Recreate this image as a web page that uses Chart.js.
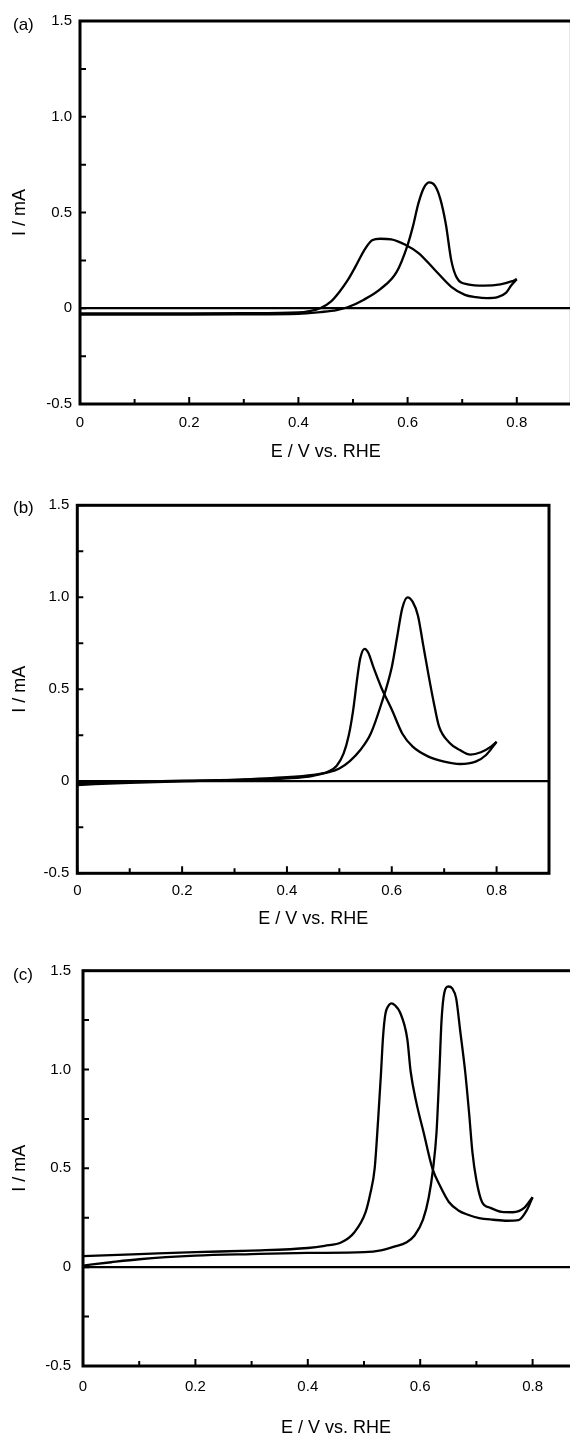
<!DOCTYPE html>
<html>
<head>
<meta charset="utf-8">
<script src="https://cdn.jsdelivr.net/npm/chart.js@4.4.1/dist/chart.umd.min.js"></script>
<style>
  body { margin: 0; background: #fff; width: 570px; height: 1437px; overflow: hidden; position: relative; }
  .panel { position: absolute; left: 0; }
  .tag { position: absolute; font: 17px "Liberation Sans", Arial, sans-serif; color: #000; line-height: 1; }
</style>
</head>
<body>
<div class="panel" style="top:0"><canvas id="chartA" width="600" height="470"></canvas></div>
<div class="panel" style="top:470px"><canvas id="chartB" width="600" height="470"></canvas></div>
<div class="panel" style="top:940px"><canvas id="chartC" width="620" height="510"></canvas></div>
<div class="tag" style="left:13px;top:16px">(a)</div>
<div class="tag" style="left:13px;top:499px">(b)</div>
<div class="tag" style="left:13px;top:966px">(c)</div>
<script>
// (a) potential / current, positive-going scan then negative-going scan
const aFwdE = [0, 0.1, 0.2, 0.3, 0.4, 0.44, 0.47, 0.49, 0.52, 0.55, 0.58, 0.6, 0.61, 0.62, 0.63, 0.64, 0.65, 0.66, 0.67, 0.68, 0.69, 0.71, 0.74, 0.77, 0.79, 0.8];
const aFwdI = [-0.033, -0.033, -0.033, -0.032, -0.029, -0.02, -0.01, 0.005, 0.045, 0.1, 0.19, 0.33, 0.43, 0.55, 0.63, 0.657, 0.64, 0.57, 0.44, 0.25, 0.16, 0.125, 0.118, 0.125, 0.14, 0.152];
const aRevE = [0.8, 0.79, 0.78, 0.765, 0.745, 0.725, 0.705, 0.68, 0.65, 0.62, 0.595, 0.57, 0.55, 0.535, 0.52, 0.505, 0.49, 0.475, 0.46, 0.44, 0.42, 0.4, 0.3, 0.2, 0.1, 0];
const aRevI = [0.152, 0.12, 0.08, 0.058, 0.053, 0.058, 0.07, 0.112, 0.2, 0.288, 0.333, 0.36, 0.363, 0.355, 0.3, 0.22, 0.145, 0.085, 0.036, 0.0, -0.015, -0.022, -0.026, -0.027, -0.027, -0.027];

// (b)
const bFwdE = [0, 0.1, 0.2, 0.3, 0.4, 0.45, 0.48, 0.5, 0.52, 0.54, 0.56, 0.58, 0.6, 0.61, 0.62, 0.63, 0.64, 0.65, 0.66, 0.67, 0.68, 0.69, 0.71, 0.73, 0.75, 0.77, 0.79, 0.8];
const bFwdI = [-0.02, -0.008, 0, 0.008, 0.022, 0.035, 0.05, 0.07, 0.11, 0.17, 0.26, 0.42, 0.62, 0.78, 0.94, 1.0, 0.975, 0.9, 0.74, 0.58, 0.43, 0.3, 0.21, 0.17, 0.145, 0.158, 0.19, 0.215];
const bRevE = [0.8, 0.78, 0.76, 0.73, 0.7, 0.67, 0.64, 0.62, 0.6, 0.58, 0.565, 0.555, 0.548, 0.54, 0.535, 0.526, 0.518, 0.508, 0.495, 0.48, 0.45, 0.4, 0.3, 0.2, 0.1, 0];
const bRevI = [0.215, 0.143, 0.107, 0.094, 0.107, 0.134, 0.188, 0.26, 0.39, 0.51, 0.62, 0.7, 0.72, 0.67, 0.58, 0.38, 0.25, 0.15, 0.085, 0.055, 0.03, 0.016, 0.008, 0.003, -0.003, -0.01];

// (c)
const cFwdE = [0, 0.05, 0.1, 0.2, 0.3, 0.4, 0.5, 0.53, 0.555, 0.575, 0.59, 0.605, 0.615, 0.623, 0.629, 0.634, 0.638, 0.643, 0.65, 0.657, 0.664, 0.671, 0.68, 0.687, 0.693, 0.7, 0.71, 0.725, 0.745, 0.765, 0.785, 0.8];
const cFwdI = [0.008, 0.025, 0.04, 0.058, 0.066, 0.072, 0.076, 0.085, 0.105, 0.125, 0.16, 0.24, 0.35, 0.5, 0.68, 0.98, 1.25, 1.39, 1.42, 1.41, 1.36, 1.2, 0.99, 0.78, 0.58, 0.44, 0.33, 0.3, 0.28, 0.278, 0.3, 0.354];
const cRevE = [0.8, 0.79, 0.775, 0.755, 0.73, 0.705, 0.685, 0.668, 0.651, 0.635, 0.622, 0.606, 0.593, 0.583, 0.577, 0.564, 0.555, 0.549, 0.543, 0.538, 0.534, 0.53, 0.525, 0.519, 0.511, 0.503, 0.483, 0.46, 0.43, 0.4, 0.3, 0.2, 0.1, 0];
const cRevI = [0.354, 0.29, 0.238, 0.235, 0.24, 0.248, 0.265, 0.287, 0.33, 0.413, 0.497, 0.683, 0.835, 0.99, 1.155, 1.29, 1.325, 1.335, 1.32, 1.28, 1.17, 0.97, 0.74, 0.5, 0.37, 0.28, 0.177, 0.126, 0.108, 0.097, 0.084, 0.076, 0.066, 0.056];

const xTitle = "E / V vs. RHE";
const yTitle = "I / mA";

Chart.defaults.font.family = '"Liberation Sans", Arial, Helvetica, sans-serif';
Chart.defaults.color = "#000";

const zip = (xs, ys) => xs.map((x, i) => ({ x: x, y: ys[i] }));

// box round the plot and ticks pointing inwards
const frameTicks = {
  id: "frameTicks",
  afterDraw(chart) {
    const { ctx, chartArea: a, scales: { x, y } } = chart;
    ctx.save();
    ctx.strokeStyle = "#000";
    ctx.lineWidth = 2;
    ctx.beginPath();
    x.ticks.forEach((t) => {
      const px = x.getPixelForValue(t.value);
      const len = t.label ? 7 : 5;
      ctx.moveTo(px, a.bottom);
      ctx.lineTo(px, a.bottom - len);
    });
    y.ticks.forEach((t) => {
      const py = y.getPixelForValue(t.value);
      ctx.moveTo(a.left, py);
      ctx.lineTo(a.left + 6, py);
    });
    ctx.stroke();
    ctx.lineWidth = 3;
    ctx.strokeRect(a.left, a.top, a.width, a.height);
    ctx.restore();
  }
};

function makePanel(id, fwd, rev, box) {
  const canvas = document.getElementById(id);
  new Chart(canvas, {
    type: "scatter",
    data: {
      datasets: [
        { data: fwd, showLine: true, borderColor: "#000", borderWidth: 2.3, pointRadius: 0, cubicInterpolationMode: "monotone" },
        { data: rev, showLine: true, borderColor: "#000", borderWidth: 2.3, pointRadius: 0, cubicInterpolationMode: "monotone" }
      ]
    },
    options: {
      responsive: false,
      animation: false,
      layout: { padding: { top: box.top, right: canvas.width - box.right, left: 0, bottom: 0 } },
      plugins: { legend: { display: false }, tooltip: { enabled: false } },
      scales: {
        x: {
          type: "linear",
          min: 0,
          max: 0.9,
          afterFit: (s) => { s.height = canvas.height - box.bottom; },
          border: { display: false },
          grid: { display: false, drawTicks: false },
          ticks: {
            stepSize: 0.1,
            autoSkip: false,
            maxRotation: 0,
            padding: box.xPad,
            font: { size: 15 },
            callback: (v) => {
              const r = Math.round(v * 10) / 10;
              if (Math.abs(r * 5 - Math.round(r * 5)) > 1e-9) return "";
              return r === 0 ? "0" : r.toFixed(1);
            }
          },
          title: { display: true, text: xTitle, font: { size: 18 }, padding: { top: 0, bottom: box.xTitlePad } }
        },
        y: {
          type: "linear",
          min: -0.5,
          max: 1.5,
          afterFit: (s) => { s.width = box.left; },
          border: { display: false },
          grid: {
            drawTicks: false,
            color: (c) => (c.tick && Math.abs(c.tick.value) < 1e-9 ? "#000" : "rgba(0,0,0,0)"),
            lineWidth: 2.2
          },
          ticks: {
            stepSize: 0.25,
            autoSkip: false,
            padding: box.yPad,
            font: { size: 15 },
            callback: (v) => {
              if (Math.abs(v * 2 - Math.round(v * 2)) > 1e-9) return "";
              return Math.abs(v) < 1e-9 ? "0" : v.toFixed(1);
            }
          },
          title: { display: true, text: yTitle, font: { size: 18 }, padding: { top: 9, bottom: 0 } }
        }
      }
    },
    plugins: [frameTicks]
  });
}

makePanel("chartA", zip(aFwdE, aFwdI), zip(aRevE, aRevI), { left: 80, right: 571.4, top: 21, bottom: 404, xPad: 10, yPad: 8, xTitlePad: 6.8 });
makePanel("chartB", zip(bFwdE, bFwdI), zip(bRevE, bRevI), { left: 77.3, right: 549, top: 35.3, bottom: 403.3, xPad: 9, yPad: 8, xTitlePad: 9.8 });
makePanel("chartC", zip(cFwdE, cFwdI), zip(cRevE, cRevI), { left: 83, right: 588.8, top: 30.7, bottom: 426, xPad: 12, yPad: 12, xTitlePad: 11.5 });
</script>
</body>
</html>
